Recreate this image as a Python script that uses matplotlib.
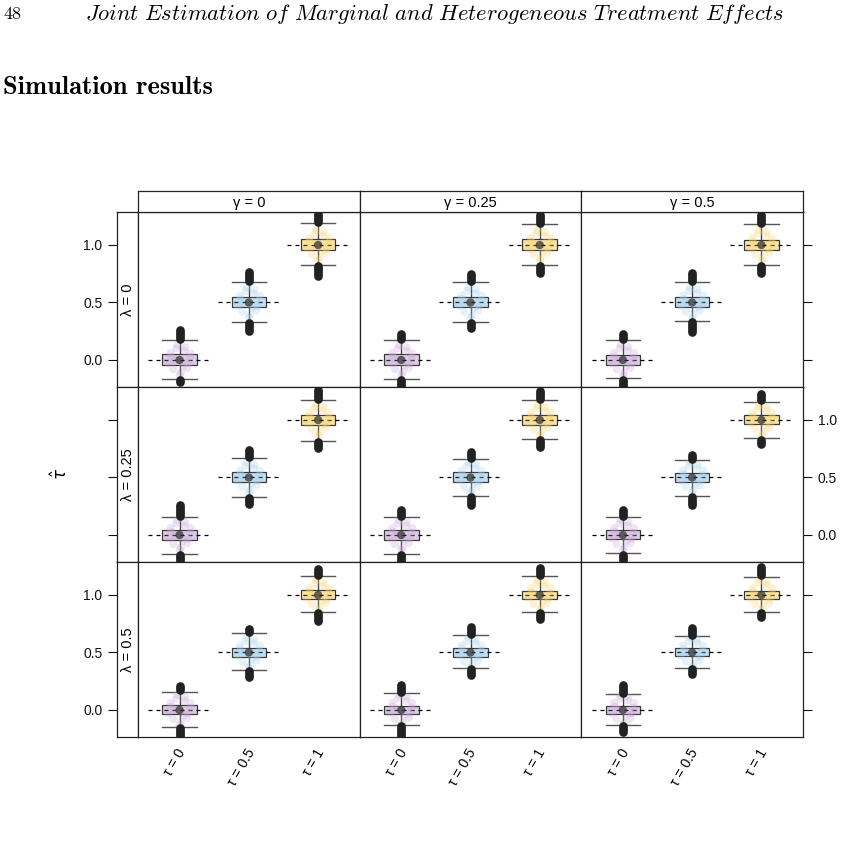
import numpy as np
import matplotlib
matplotlib.use("Agg")
import matplotlib.pyplot as plt
from matplotlib.patches import Rectangle

plt.rcParams['font.family'] = ['Liberation Sans', 'DejaVu Sans']

# ---------------- data ----------------
gamma_labels = ['0', '0.25', '0.5']          # columns (strip on top)
lambda_labels = ['0', '0.25', '0.5']         # rows (strip on left)
tau_labels = ['0', '0.5', '1']               # x categories
tau_true = [0.0, 0.5, 1.0]                   # dashed reference lines

# [row = lambda][col = gamma][tau]
medians = [
    [[0.0, 0.5, 1.0], [0.0, 0.5, 1.0], [0.0, 0.5, 1.0]],
    [[0.0, 0.5, 1.0], [0.0, 0.5, 1.0], [0.0, 0.5, 1.0]],
    [[0.0, 0.5, 1.0], [0.0, 0.5, 1.0], [0.0, 0.5, 1.0]],
]
q_lo = [
    [[-0.040, 0.460, 0.960], [-0.040, 0.460, 0.960], [-0.040, 0.460, 0.960]],
    [[-0.040, 0.460, 0.960], [-0.040, 0.460, 0.960], [-0.038, 0.462, 0.962]],
    [[-0.036, 0.464, 0.964], [-0.035, 0.465, 0.965], [-0.034, 0.466, 0.966]],
]
q_hi = [
    [[0.048, 0.548, 1.050], [0.048, 0.548, 1.048], [0.046, 0.546, 1.046]],
    [[0.046, 0.546, 1.046], [0.044, 0.544, 1.044], [0.042, 0.542, 1.042]],
    [[0.040, 0.540, 1.040], [0.038, 0.538, 1.038], [0.037, 0.536, 1.036]],
]
whisk_lo = [
    [[-0.165, 0.333, 0.826], [-0.163, 0.333, 0.830], [-0.160, 0.340, 0.826]],
    [[-0.165, 0.330, 0.820], [-0.163, 0.340, 0.832], [-0.160, 0.340, 0.840]],
    [[-0.148, 0.348, 0.850], [-0.133, 0.363, 0.850], [-0.128, 0.368, 0.855]],
]
whisk_hi = [
    [[0.174, 0.681, 1.189], [0.174, 0.680, 1.180], [0.170, 0.675, 1.180]],
    [[0.159, 0.670, 1.170], [0.159, 0.658, 1.170], [0.154, 0.650, 1.160]],
    [[0.160, 0.667, 1.168], [0.150, 0.652, 1.168], [0.142, 0.643, 1.160]],
]
# most extreme outliers (the dense outlier runs form the black "pills")
out_lo = [
    [[-0.190, 0.250, 0.730], [-0.240, 0.280, 0.760], [-0.240, 0.243, 0.760]],
    [[-0.240, 0.270, 0.760], [-0.240, 0.258, 0.765], [-0.220, 0.263, 0.794]],
    [[-0.240, 0.290, 0.770], [-0.240, 0.300, 0.787], [-0.190, 0.313, 0.810]],
]
out_hi = [
    [[0.260, 0.765, 1.270], [0.226, 0.750, 1.260], [0.230, 0.757, 1.260]],
    [[0.260, 0.740, 1.260], [0.220, 0.724, 1.250], [0.217, 0.696, 1.226]],
    [[0.210, 0.700, 1.226], [0.220, 0.726, 1.235], [0.220, 0.717, 1.240]],
]
# light jittered estimate cloud around each median (offsets)
cloud_dx = [-0.13, 0.11, -0.05, 0.15, -0.16, 0.07, 0.02, -0.09, 0.13, -0.03, 0.08, -0.12, 0.05, -0.06, 0.16, 0.00]
cloud_dy = [0.06, -0.07, 0.10, 0.02, -0.03, 0.08, -0.11, -0.08, -0.03, 0.13, 0.11, 0.03, -0.05, 0.00, 0.06, -0.13]

box_fill = ['#dccbe3', '#c3def0', '#fbe3a4']
cloud_col = ['#c8a6d8', '#a6d0ec', '#f9d36e']

# ---------------- layout (pixels) ----------------
W, H = 847, 861
fig = plt.figure(figsize=(W / 100, H / 100), dpi=100)

def px_axes(x0, y0, x1, y1):
    return fig.add_axes([x0 / W, 1 - y1 / H, (x1 - x0) / W, (y1 - y0) / H])

col_x = [138, 359.7, 581.3, 803]
row_y = [212, 387, 562, 737]
strip_top = 191
strip_left = 117
YLIM = (-0.235, 1.287)
XLIM = (0.4, 3.6)
frame_col = '#222222'
frame_lw = 0.9

for r in range(3):
    # left strip (lambda)
    sl = px_axes(strip_left, row_y[r], col_x[0], row_y[r + 1])
    sl.set_xlim(0, 1)
    sl.set_ylim(*YLIM)
    sl.set_xticks([])
    sl.set_yticks(tau_true)
    sl.set_yticklabels(['0.0', '0.5', '1.0'])
    sl.tick_params(axis='y', direction='out', length=6.5, width=0.8, pad=4,
                   labelsize=10, labelleft=(r != 1), colors='#111111')
    for s in sl.spines.values():
        s.set_linewidth(frame_lw)
        s.set_color(frame_col)
    sl.text(0.5, 0.5, '\u03bb = ' + lambda_labels[r], rotation=90,
            transform=sl.transAxes, ha='center', va='center', fontsize=10.5)

    for c in range(3):
        ax = px_axes(col_x[c], row_y[r], col_x[c + 1], row_y[r + 1])
        ax.set_xlim(*XLIM)
        ax.set_ylim(*YLIM)
        ax.set_xticks([])
        for s in ax.spines.values():
            s.set_linewidth(frame_lw)
            s.set_color(frame_col)
        if c == 2:
            ax.set_yticks(tau_true)
            ax.set_yticklabels(['0.0', '0.5', '1.0'])
            ax.tick_params(axis='y', left=False, right=True, labelleft=False,
                           labelright=(r == 1), direction='out', length=6.5,
                           width=0.8, pad=4, labelsize=10, colors='#111111')
        else:
            ax.set_yticks([])

        for k in range(3):
            x = k + 1
            med = medians[r][c][k]
            # box
            ax.add_patch(Rectangle((x - 0.25, q_lo[r][c][k]), 0.5,
                                   q_hi[r][c][k] - q_lo[r][c][k],
                                   facecolor=box_fill[k], edgecolor='#3a3a3a',
                                   lw=0.9, zorder=2))
            # whiskers and caps
            ax.plot([x, x], [q_hi[r][c][k], whisk_hi[r][c][k]], color='#444444', lw=1.0, zorder=1)
            ax.plot([x, x], [q_lo[r][c][k], whisk_lo[r][c][k]], color='#444444', lw=1.0, zorder=1)
            ax.plot([x - 0.25, x + 0.25], [whisk_hi[r][c][k]] * 2, color='#555555', lw=1.0, zorder=1)
            ax.plot([x - 0.25, x + 0.25], [whisk_lo[r][c][k]] * 2, color='#555555', lw=1.0, zorder=1)
            # outlier runs
            ax.plot([x, x], [whisk_hi[r][c][k] + 0.01, out_hi[r][c][k]], color='#222222',
                    lw=6.3, solid_capstyle='round', zorder=5)
            ax.plot([x, x], [whisk_lo[r][c][k] - 0.01, out_lo[r][c][k]], color='#222222',
                    lw=6.3, solid_capstyle='round', zorder=5)
            # jittered estimates
            ax.scatter([x + d for d in cloud_dx], [med + d for d in cloud_dy], s=34,
                       color=cloud_col[k], alpha=0.28, edgecolors='none', zorder=4)
            # true value reference
            ax.plot([x - 0.45, x + 0.45], [tau_true[k]] * 2, color='black', lw=0.9,
                    ls=(0, (3.2, 3.2)), zorder=3)
            # median dot
            ax.scatter([x], [med], s=36, color='#333333', alpha=0.75, edgecolors='none', zorder=6)

        if r == 2:
            for k in range(3):
                ax.annotate('\u03c4 = ' + tau_labels[k], xy=(k + 1, 0),
                            xycoords=('data', 'axes fraction'), xytext=(2, -9),
                            textcoords='offset points', rotation=60, ha='right',
                            va='center', rotation_mode='anchor', fontsize=10)

        if r == 0:
            st = px_axes(col_x[c], strip_top, col_x[c + 1], row_y[0])
            st.set_xticks([])
            st.set_yticks([])
            for s in st.spines.values():
                s.set_linewidth(frame_lw)
                s.set_color(frame_col)
            st.text(0.5, 0.45, '\u03b3 = ' + gamma_labels[c], transform=st.transAxes,
                    ha='center', va='center', fontsize=10.5)

fig.text(60 / W, 1 - 474 / H, r'$\hat{\tau}$', rotation=90, ha='center', va='center', fontsize=12)

# page header
fig.text(3 / W, 1 - 14 / H, '48', family='cmr10', fontsize=13, va='center')
fig.text(85 / W, 1 - 14 / H,
         r'$\mathit{Joint\ Estimation\ of\ Marginal\ and\ Heterogeneous\ Treatment\ Effects}$',
         math_fontfamily='cm', fontsize=16.2, va='center')
fig.text(3 / W, 1 - 88 / H, 'Simulation results', family='cmb10', fontsize=19, va='center')

fig.savefig('out.png', dpi=100)
